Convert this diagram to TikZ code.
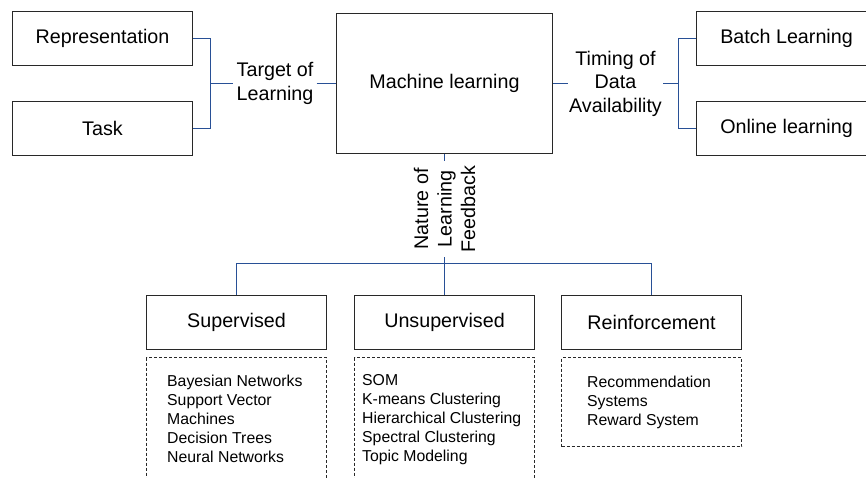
\documentclass[tikz,border=0pt]{standalone}
\usepackage{fontspec}
\setmainfont{Liberation Sans}
\newcommand\lblfont{\fontsize{19.7}{23.5}\selectfont}
\newcommand\listfont{\fontsize{15.8}{19}\selectfont}
\definecolor{connblue}{RGB}{40,80,150}
\definecolor{boxline}{RGB}{40,40,40}
\begin{document}
\begin{tikzpicture}[x=1pt,y=-1pt,
  box/.style={draw=boxline, line width=1pt, minimum width=180pt, minimum height=54pt, inner sep=0pt, font=\lblfont},
  dbox/.style={draw=boxline, line width=0.8pt, dash pattern=on 3pt off 2pt, minimum width=180pt, inner sep=0pt},
  lbl/.style={align=center, inner ysep=0pt, font=\lblfont},
  lst/.style={anchor=north west, align=left, inner sep=0pt, font=\listfont},
  conn/.style={draw=connblue, line width=1.2pt}]
\useasboundingbox (0,0) rectangle (866,477);
\clip (0,0) rectangle (866,477);
\fill[white] (0,0) rectangle (866,477);

% top row
\node[box] (rep) at (102.5,38.5) {Representation};
\node[box] (task) at (102.5,128.5) {Task};
\node[box, minimum width=216pt, minimum height=140pt] (ml) at (444.5,83.5) {Machine learning};
\node[box] (batch) at (786.5,38.5) {Batch Learning};
\node[box] (online) at (786.5,128.5) {Online learning};

\node[lbl, inner xsep=3pt] (target) at (275,83.5) {Target of\\Learning};
\node[lbl, inner xsep=1pt] (timing) at (615.5,83.5) {Timing of\\Data\\Availability};
\node[lbl, rotate=90, inner xsep=5pt] (nature) at (444.5,209) {Nature of\\Learning\\Feedback};

% bottom row
\node[box] (sup) at (236.5,322.5) {Supervised};
\node[box] (unsup) at (444.5,322.5) {Unsupervised};
\node[box] (rein) at (651.5,322.5) {Reinforcement};

\node[dbox, minimum height=140pt] (supd) at (236.5,427.5) {};
\node[dbox, minimum height=140pt] (unsupd) at (444.5,427.5) {};
\node[dbox, minimum height=89pt] (reind) at (651.5,402) {};

\node[lst] (supl) at (167,374.5) {Bayesian Networks\\Support Vector\\Machines\\Decision Trees\\Neural Networks};
\node[lst] (unsupl) at (362,374.5) {SOM\\K-means Clustering\\Hierarchical Clustering\\Spectral Clustering\\Topic Modeling};
\node[lst] (reinl) at (587,376) {Recommendation\\Systems\\Reward System};

% connectors
\coordinate (bl) at (210.5,83.5);
\coordinate (br) at (678.5,83.5);
\coordinate (bus) at (444.5,263.5);
\draw[conn] (rep.east) -| (bl) |- (task.east);
\draw[conn] (bl) -- (target.west);
\draw[conn] (target.east) -- (ml.west);
\draw[conn] (ml.east) -- (timing.west);
\draw[conn] (timing.east) -- (br);
\draw[conn] (batch.west) -| (br) |- (online.west);
\draw[conn] (ml.south) -- (nature.east);
\draw[conn] (nature.west) -- (unsup.north);
\draw[conn] (sup.north) |- (bus) -| (rein.north);
\end{tikzpicture}
\end{document}
